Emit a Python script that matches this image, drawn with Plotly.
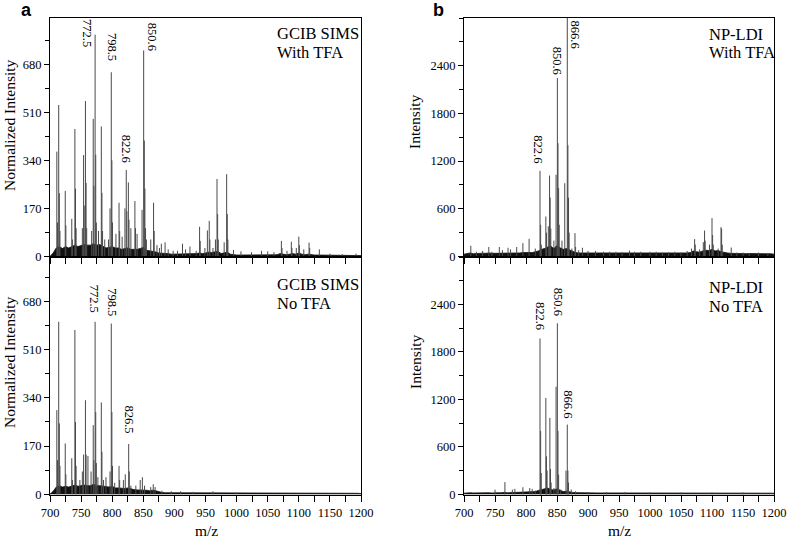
import plotly.graph_objects as go

# ---------------- data ----------------
# Stick peaks (m/z, intensity) per panel
tl_mz = [711, 712, 714, 715, 716, 724.5, 725.5, 735, 736, 740, 741, 742, 752, 754, 755, 757, 758, 759,
         767, 769.5, 770.5, 772.5, 773.5, 774.5, 778, 782.5, 783.5, 784.5, 788, 794, 796.5, 798.5, 799.5,
         800.5, 806, 811, 812, 816, 820.5, 822.6, 823.6, 826, 827, 830, 836.5, 837.5, 840, 848, 850.6,
         851.6, 852.6, 853.6, 855, 862, 866.5, 867.5, 872, 876, 879, 885, 890, 898, 905, 913, 918, 925,
         935, 940.5, 941.5, 949, 953, 956, 957, 962, 966, 968.5, 969.5, 970.5, 980, 984, 985, 986, 995,
         1007, 1024, 1040, 1050, 1060, 1072, 1073, 1081, 1088, 1089, 1096, 1100, 1101, 1108, 1116.5,
         1117.5, 1133, 1150, 1170, 1192]
tl_int = [371, 120, 536, 224, 90, 232, 110, 133, 60, 451, 240, 100, 100, 359, 180, 550, 260, 100,
          90, 487, 250, 785, 360, 120, 90, 460, 225, 90, 60, 60, 170, 652, 340,
          120, 80, 190, 90, 70, 170, 306, 160, 262, 130, 100, 196, 100, 80, 165, 729,
          410, 240, 100, 60, 60, 190, 90, 40, 30, 45, 50, 25, 20, 20, 45, 25, 35,
          20, 105, 55, 30, 92, 126, 60, 30, 60, 274, 150, 60, 50, 291, 150, 60, 23,
          18, 15, 20, 18, 15, 55, 30, 20, 52, 30, 30, 70, 40, 25, 49,
          30, 25, 10, 8, 10]

bl_mz = [711, 712, 714, 715, 716, 724.5, 725.5, 735, 736, 740, 741, 742, 748, 752, 754, 757, 758, 761,
         766, 769.5, 770.5, 772.5, 773.5, 774.5, 777, 782.5, 783.5, 786, 790, 796.5, 798.5, 799.5, 800.5,
         804, 811, 812, 818, 821, 826.5, 827.5, 830, 838, 845, 848.5, 852, 862, 866, 869, 880, 895, 910,
         930, 962, 1000]
bl_int = [297, 120, 609, 250, 100, 179, 70, 127, 50, 580, 255, 100, 50, 80, 140, 332, 140, 135,
          80, 244, 120, 609, 290, 110, 60, 324, 150, 50, 60, 80, 603, 290, 100,
          40, 100, 50, 50, 70, 177, 80, 30, 30, 50, 60, 30, 25, 35, 25, 12, 10, 10,
          8, 10, 5]

tr_mz = [711, 720, 730, 740, 745, 757, 762, 771, 775, 785, 795, 805, 815, 822.6, 823.6, 824.6, 832, 833,
         836, 838, 839, 840, 845, 848.5, 850.6, 851.6, 852.6, 853.6, 858, 862.5, 866.6, 867.6, 868.6,
         869.6, 874, 879, 880, 885, 891, 900, 912, 925, 935, 945, 955, 967, 975, 985, 1000, 1010, 1020,
         1030, 1040, 1050, 1060, 1067, 1072, 1073, 1080, 1086, 1088, 1089, 1096, 1100, 1101, 1102, 1110,
         1114.5, 1115.5, 1116.5, 1131, 1140, 1150, 1160, 1175, 1190]
tr_int = [135, 60, 70, 120, 60, 120, 80, 110, 90, 120, 168, 222, 100, 1078, 400, 150, 503, 300,
          380, 1019, 740, 350, 200, 1028, 2244, 1425, 860, 400, 200, 922, 3100, 1400, 740,
          300, 100, 294, 120, 80, 110, 70, 70, 60, 60, 60, 55, 75, 60, 60, 60, 60, 50,
          55, 60, 50, 70, 100, 219, 150, 90, 180, 327, 200, 150, 483, 270, 150, 100,
          370, 350, 150, 113, 50, 50, 45, 50, 45]

br_mz = [750, 766, 778, 782, 795, 806, 810, 815, 822.6, 823.6, 824.6, 832, 833, 834, 838.5, 839.5, 840.5,
         845, 848.5, 850.6, 851.6, 852.6, 856, 864.5, 866.6, 867.6, 868.6, 873, 880, 900, 930, 960, 1000,
         1050, 1100, 1150]
br_int = [60, 155, 60, 70, 90, 80, 70, 50, 1970, 800, 270, 1218, 480, 300, 966, 320, 150,
          80, 1360, 2163, 800, 250, 60, 300, 882, 300, 150, 60, 40, 30, 30, 30, 25,
          25, 25, 25]

# Baseline "grass" level on a 5-unit m/z grid, 700..1200
base_mz = list(range(700, 1205, 5))
tl_base = [0, 12, 30, 35, 28, 35, 30, 35, 40, 35,
           38, 42, 40, 40, 45, 40, 42, 35, 30, 32,
           35, 30, 30, 25, 28, 30, 25, 25, 25, 28,
           32, 22, 20, 20, 16, 12, 12, 10, 10, 8,
           8, 8, 9, 8, 8, 8, 8, 10, 12, 10,
           12, 15, 14, 15, 18, 10, 12, 15, 8, 6,
           5, 5, 5, 5, 5, 5, 5, 5, 5, 5,
           5, 5, 5, 6, 10, 8, 6, 8, 10, 8,
           12, 8, 6, 8, 6, 5, 5, 5, 4, 4,
           4, 4, 4, 4, 4, 4, 4, 4, 4, 4,
           3]
bl_base = [0, 10, 25, 30, 25, 28, 25, 28, 32, 28,
           30, 32, 30, 30, 35, 30, 30, 28, 25, 25,
           28, 22, 22, 20, 20, 22, 18, 16, 15, 15,
           16, 14, 12, 14, 12, 8, 6, 5, 5, 4,
           4, 4, 4, 4, 4, 3, 3, 3, 3, 3,
           3, 3, 4, 3, 3, 3, 3, 3, 3, 3,
           3, 3, 3, 3, 3, 3, 3, 3, 3, 3,
           3, 3, 3, 3, 3, 3, 3, 3, 3, 3,
           3, 3, 3, 3, 3, 3, 3, 3, 3, 3,
           3, 3, 3, 3, 3, 3, 3, 3, 3, 3,
           2]
tr_base = [30, 40, 45, 35, 40, 38, 42, 40, 45, 40,
           40, 42, 45, 40, 45, 42, 45, 40, 45, 50,
           50, 55, 50, 60, 70, 90, 100, 120, 130, 100,
           140, 110, 90, 100, 80, 60, 50, 45, 45, 42,
           40, 42, 40, 38, 40, 40, 38, 40, 40, 38,
           40, 38, 40, 42, 40, 38, 40, 38, 40, 38,
           38, 40, 38, 40, 38, 40, 38, 40, 40, 38,
           40, 42, 45, 50, 70, 60, 55, 70, 80, 75,
           90, 70, 75, 60, 50, 45, 40, 38, 40, 38,
           38, 36, 38, 36, 38, 36, 35, 36, 35, 35,
           30]
br_base = [15, 20, 20, 18, 20, 20, 18, 20, 20, 18,
           22, 20, 20, 25, 20, 22, 20, 25, 20, 25,
           25, 30, 30, 35, 50, 60, 70, 80, 60, 55,
           70, 55, 35, 40, 30, 25, 22, 20, 20, 20,
           18, 18, 20, 18, 18, 20, 18, 18, 18, 18,
           18, 20, 18, 18, 18, 18, 18, 18, 18, 18,
           18, 18, 18, 18, 18, 18, 18, 18, 18, 18,
           18, 18, 18, 18, 18, 18, 18, 18, 18, 18,
           18, 18, 18, 18, 18, 18, 18, 18, 18, 18,
           18, 18, 18, 18, 18, 18, 18, 18, 18, 18,
           15]

# Peak labels per panel
tl_labels = ["772.5", "798.5", "822.6", "850.6"]
bl_labels = ["772.5", "798.5", "826.5"]
tr_labels = ["822.6", "850.6", "866.6"]
br_labels = ["822.6", "850.6", "866.6"]

panel_line1 = ["GCIB SIMS", "GCIB SIMS", "NP-LDI", "NP-LDI"]
panel_line2 = ["With TFA", "No TFA", "With TFA", "No TFA"]
x_ticks = [700, 750, 800, 850, 900, 950, 1000, 1050, 1100, 1150, 1200]
left_y_ticks = [0, 170, 340, 510, 680]
right_y_ticks = [0, 600, 1200, 1800, 2400]

# ---------------- figure ----------------
SERIF = "Liberation Serif"
W, H = 787, 540
fig = go.Figure()

def stems(mz, inten):
    xs, ys = [], []
    for m, v in zip(mz, inten):
        xs += [m, m, None]
        ys += [0, v, None]
    return xs, ys

panels = [
    ("x", "y", tl_mz, tl_int, tl_base),
    ("x2", "y2", bl_mz, bl_int, bl_base),
    ("x3", "y3", tr_mz, tr_int, tr_base),
    ("x4", "y4", br_mz, br_int, br_base),
]
for xa, ya, mz, inten, base in panels:
    fig.add_trace(go.Scatter(x=base_mz, y=base, xaxis=xa, yaxis=ya, mode="lines",
                             line=dict(color="#111111", width=0.8), fill="tozeroy",
                             fillcolor="#111111", hoverinfo="skip", showlegend=False))
    xs, ys = stems(mz, inten)
    fig.add_trace(go.Scatter(x=xs, y=ys, xaxis=xa, yaxis=ya, mode="lines",
                             line=dict(color="#4a4a4a", width=1), showlegend=False,
                             connectgaps=False))

px = lambda v: v / W
py = lambda v: 1 - v / H
xl = [px(50), px(361)]
xr = [px(464), px(774)]
ytop = [py(257), py(18)]
ybot = [py(495), py(257)]

axis_common = dict(showline=True, linecolor="black", linewidth=1, mirror=True, showgrid=False,
                   zeroline=False, ticks="outside", tickcolor="black", automargin=False,
                   tickfont=dict(family=SERIF, size=12.5, color="black"))

def xaxis(domain, anchor, labels):
    return dict(axis_common, domain=domain, anchor=anchor, range=[700, 1200],
                tickvals=x_ticks, ticklen=6, showticklabels=labels,
                minor=dict(dtick=25, tick0=700, ticks="outside", ticklen=6, tickcolor="black"))

def yaxis(domain, anchor, rng, vals, minor):
    return dict(axis_common, domain=domain, anchor=anchor, range=rng, tickvals=vals, ticklen=5,
                minor=dict(dtick=minor, tick0=0, ticks="outside", ticklen=4, tickcolor="black"))

fig.update_layout(
    width=W, height=H, margin=dict(l=0, r=0, t=0, b=0, autoexpand=False),
    paper_bgcolor="white", plot_bgcolor="white",
    xaxis=xaxis(xl, "y", False), yaxis=yaxis(ytop, "x", [-2, 844], left_y_ticks, 85),
    xaxis2=xaxis(xl, "y2", True), yaxis2=yaxis(ybot, "x2", [-3, 838], left_y_ticks, 85),
    xaxis3=xaxis(xr, "y3", False), yaxis3=yaxis(ytop, "x3", [-6, 3000], right_y_ticks, 300),
    xaxis4=xaxis(xr, "y4", True), yaxis4=yaxis(ybot, "x4", [-8, 3000], right_y_ticks, 300),
)

ann = []

def pa(text, x, y, size, family=SERIF, xanchor="center", yanchor="middle", angle=0):
    return dict(text=text, x=px(x), y=py(y), xref="paper", yref="paper", showarrow=False,
                xanchor=xanchor, yanchor=yanchor, textangle=angle,
                font=dict(family=family, size=size, color="black"))

# panel letters
ann.append(pa("<b>a</b>", 26, 10, 18, family="Liberation Sans"))
ann.append(pa("<b>b</b>", 438, 10, 18, family="Liberation Sans"))
# corner texts (two lines each)
for l1, l2, xx, yy in zip(panel_line1, panel_line2, [275, 275, 707, 707], [33, 284, 34, 287]):
    ann.append(pa(l1, xx, yy, 16.5, xanchor="left"))
    ann.append(pa(l2, xx, yy + 19, 16.5, xanchor="left"))
# axis titles
for txt, xx, yy in [("Normalized Intensity", 9, 125), ("Normalized Intensity", 9, 362),
                    ("Intensity", 415, 122), ("Intensity", 415, 362)]:
    ann.append(pa(txt, xx, yy, 15.5, angle=-90))
for xx in [206, 619]:
    ann.append(pa("m/z", xx, 530, 15.5))

# peak labels, anchored at the peaks they name
def peak_label(lbl, mz, inten, xa, ya, xshift, yshift, yanchor):
    v = inten[mz.index(float(lbl))]
    return dict(text=lbl, x=float(lbl), y=v, xref=xa, yref=ya, showarrow=False, textangle=90,
                xshift=xshift, yshift=yshift, yanchor=yanchor, xanchor="center",
                font=dict(family=SERIF, size=12.5, color="black"))

tl_pos = {"772.5": (-7.5, 2, "middle"), "798.5": (0, 9, "bottom"), "822.6": (0, 5, "bottom"),
          "850.6": (8.5, 13.5, "middle")}
bl_pos = {"772.5": (-1, 7, "bottom"), "798.5": (0, 5, "bottom"), "826.5": (0, 9, "bottom")}
tr_pos = {"822.6": (-1.5, 6, "bottom"), "850.6": (0, 1, "bottom"), "866.6": (8, 0, "top")}
br_pos = {"822.6": (-0.5, 7, "bottom"), "850.6": (0, 5, "bottom"), "866.6": (1, 4, "bottom")}

for labels, pos, mz, inten, xa, ya in [(tl_labels, tl_pos, tl_mz, tl_int, "x", "y"),
                                        (bl_labels, bl_pos, bl_mz, bl_int, "x2", "y2"),
                                        (tr_labels, tr_pos, tr_mz, tr_int, "x3", "y3"),
                                        (br_labels, br_pos, br_mz, br_int, "x4", "y4")]:
    for lbl in labels:
        xs_, ys_, ya_ = pos[lbl]
        a = peak_label(lbl, mz, inten, xa, ya, xs_, ys_, ya_)
        if lbl == "866.6" and ya == "y3":
            a["y"] = 2990
        ann.append(a)

fig.update_layout(annotations=ann)
fig.write_html("out.html", config={"displayModeBar": False},
               post_script="document.body.style.margin='0px';")
